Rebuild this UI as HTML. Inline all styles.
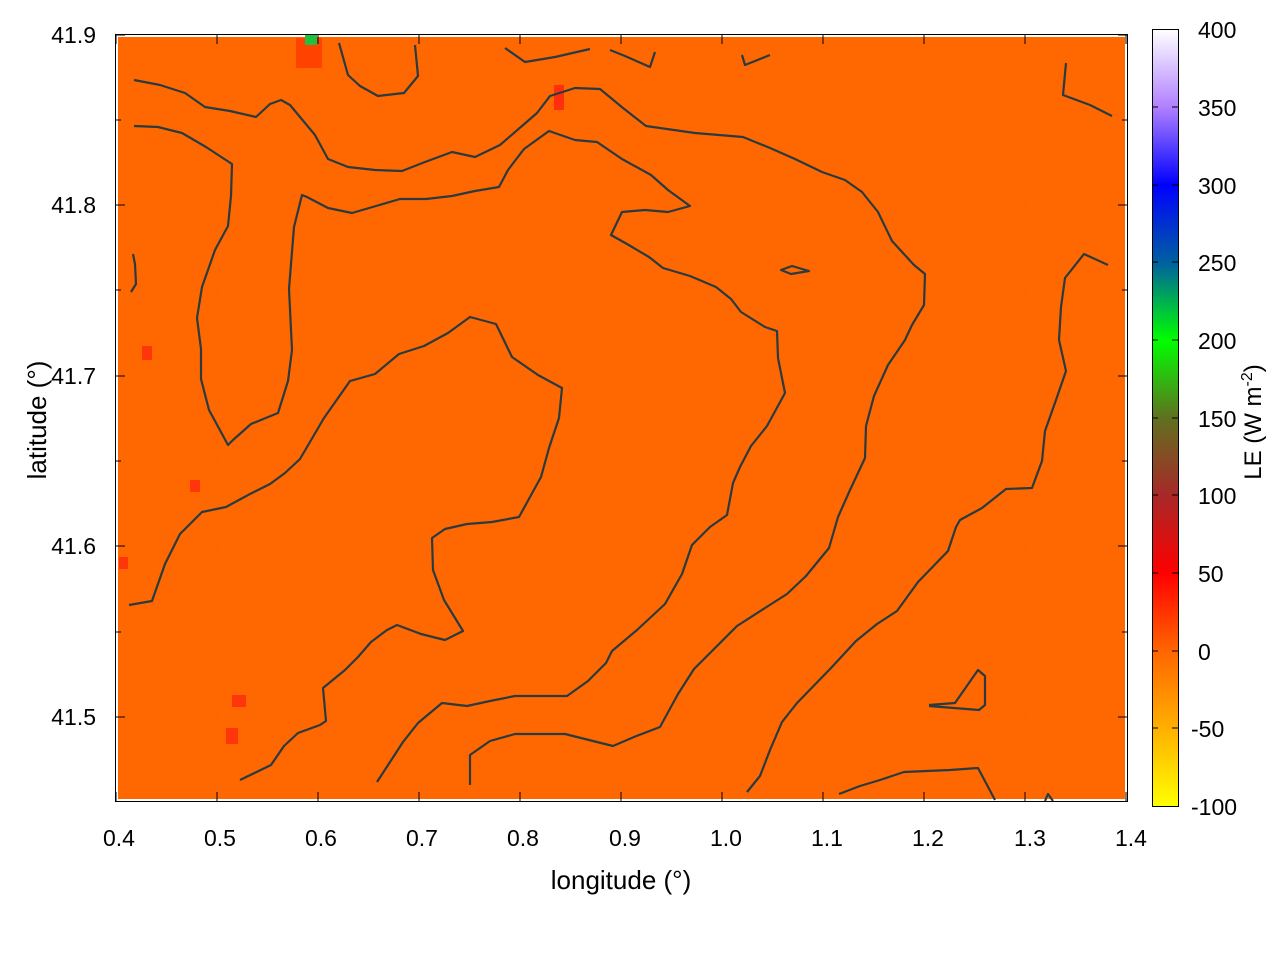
<!DOCTYPE html>
<html><head><style>body{margin:0;background:#fff}svg text{font-family:"Liberation Sans",sans-serif;font-size:23px;fill:#000}</style></head>
<body>
<svg width="1280" height="960" xmlns="http://www.w3.org/2000/svg">
<defs>
<linearGradient id="cb" x1="0" y1="1" x2="0" y2="0">
<stop offset="0" stop-color="#ffff00"/>
<stop offset="0.1" stop-color="#ffb000"/>
<stop offset="0.2" stop-color="#ff6600"/>
<stop offset="0.3" stop-color="#ff0000"/>
<stop offset="0.4" stop-color="#a82828"/>
<stop offset="0.5" stop-color="#607020"/>
<stop offset="0.6" stop-color="#00ff00"/>
<stop offset="0.7" stop-color="#0060a0"/>
<stop offset="0.8" stop-color="#0000ff"/>
<stop offset="0.9" stop-color="#b080ff"/>
<stop offset="1" stop-color="#ffffff"/>
</linearGradient>
</defs>
<rect x="118" y="37" width="1007" height="762" fill="#ff6800"/>
<rect x="296" y="38" width="26" height="30" fill="#ff3800" opacity="0.8"/>
<rect x="305" y="35" width="12" height="10" fill="#20c040"/>
<rect x="554" y="85" width="10" height="25" fill="#ff2010" opacity="0.8"/>
<rect x="142" y="346" width="10" height="14" fill="#ff2010" opacity="0.7"/>
<rect x="190" y="480" width="10" height="12" fill="#ff2010" opacity="0.7"/>
<rect x="119" y="557" width="9" height="12" fill="#ff2010" opacity="0.7"/>
<rect x="226" y="728" width="12" height="16" fill="#ff2010" opacity="0.7"/>
<rect x="232" y="695" width="14" height="12" fill="#ff2010" opacity="0.7"/>
<g stroke="#cc6a10" stroke-width="0.6" stroke-dasharray="1,3" fill="none" opacity="0.7">
<path d="M217 35V801M318 35V801M419 35V801M520 35V801M621 35V801M722 35V801M823 35V801M924 35V801M1025 35V801"/>
<path d="M116 120H1127M116 205H1127M116 290H1127M116 376H1127M116 461H1127M116 546H1127M116 632H1127M116 717H1127"/>
</g>
<g fill="none" stroke="#2a3a40" stroke-width="2.2" stroke-linejoin="round">
<path d="M134 80L160 85L185 93L205 107L230 111L256 117L270 104L281 100L290 105L315 135L328 159L348 167L375 170L402 171L425 162L452 152L475 157L500 145L522 126L537 113L550 96L575 88L600 89L623 108L646 126L695 133L743 137L770 148L795 159L822 172L845 180L862 192L878 212L892 241L914 265L925 274L924 305L912 325L905 340L888 365L874 396L866 426L865 458L850 490L838 517L829 548L806 576L787 594L765 608L737 626L712 651L694 669L678 694L660 727L634 737L613 746L565 734L515 734L490 741L470 755L470 785"/>
<path d="M134 126L158 127L182 133L206 147L232 164L231 196L228 226L215 250L202 287L197 318L201 349L201 379L209 410L228 445L233 440L251 424L278 413L288 381L292 350L289 289L294 227L302 195L307 197L328 208L352 213L376 206L400 199L426 199L452 196L475 191L499 187L508 170L524 149L549 131L575 140L597 142L622 159L651 175L668 190L690 206L668 212L645 210L622 212L611 235L627 244L649 257L663 268L690 276L716 287L731 299L741 312L765 327L777 331L778 358L785 393L767 426L751 446L740 467L733 483L727 515L710 527L692 545L682 574L665 604L637 630L612 651L606 663L588 681L567 696L515 696L490 701L467 706L442 703L418 723L403 742L390 762L377 782"/>
<path d="M129 605L152 601L165 564L180 534L202 512L226 507L250 494L270 484L285 473L300 459L324 418L350 381L375 374L399 354L424 346L448 333L470 317L496 324L512 357L538 375L562 388L559 418L549 448L541 477L519 517L492 522L467 524L445 529L432 538L433 570L444 600L463 631L445 640L421 634L397 625L387 630L371 642L358 657L345 670L323 688L326 721L320 725L298 733L284 746L271 765L240 780"/>
<path d="M339 43L348 75L360 86L378 96L404 93L418 76L415 45"/>
<path d="M505 48L525 62L555 57L590 49"/>
<path d="M610 50L625 56L650 67L655 52"/>
<path d="M742 55L745 65L770 55"/>
<path d="M781 270L792 266L809 271L791 274Z"/>
<path d="M133 254L135 264L136 284L131 292"/>
<path d="M1066 63L1063 95L1090 105L1112 116"/>
<path d="M1108 265L1084 254L1065 278L1061 307L1059 340L1066 371L1056 400L1045 431L1042 461L1032 488L1006 489L982 508L960 520L956 527L948 551L918 582L897 611L877 624L856 641L831 668L797 703L782 722L770 750L760 776L747 792"/>
<path d="M839 794L860 786L880 780L904 772L950 770L978 768L995 800"/>
<path d="M929 705L955 703L978 670L985 676L985 705L979 710L929 706"/>
<path d="M1045 801L1048 794L1053 801"/>
</g>
<rect x="115.5" y="34.5" width="1012" height="767" fill="none" stroke="#000" stroke-width="1"/>
<g stroke="#000" stroke-width="1">
<path d="M116 35V44M217 35V44M318 35V44M419 35V44M520 35V44M621 35V44M722 35V44M823 35V44M924 35V44M1025 35V44M1126 35V44"/>
<path d="M116 801V792M217 801V792M318 801V792M419 801V792M520 801V792M621 801V792M722 801V792M823 801V792M924 801V792M1025 801V792M1126 801V792"/>
<path d="M116 35H125M116 120H121M116 205H125M116 290H121M116 376H125M116 461H121M116 546H125M116 632H121M116 717H125"/>
<path d="M1127 35H1118M1127 120H1122M1127 205H1118M1127 290H1122M1127 376H1118M1127 461H1122M1127 546H1118M1127 632H1122M1127 717H1118"/>
</g>
<g text-anchor="end">
<text x="96" y="43">41.9</text><text x="96" y="213">41.8</text><text x="96" y="384">41.7</text><text x="96" y="554">41.6</text><text x="96" y="725">41.5</text>
</g>
<g text-anchor="middle">
<text x="119" y="846">0.4</text><text x="220" y="846">0.5</text><text x="321" y="846">0.6</text><text x="422" y="846">0.7</text><text x="523" y="846">0.8</text><text x="625" y="846">0.9</text><text x="726" y="846">1.0</text><text x="827" y="846">1.1</text><text x="928" y="846">1.2</text><text x="1030" y="846">1.3</text><text x="1131" y="846">1.4</text>
<text x="621" y="889" style="font-size:26px">longitude (°)</text>
<text transform="translate(46,420) rotate(-90)" style="font-size:26px">latitude (°)</text>
<text transform="translate(1261,422) rotate(-90)" style="font-size:24px">LE (W m<tspan dy="-9" style="font-size:16px">-2</tspan><tspan dy="9">)</tspan></text>
</g>
<rect x="1152.5" y="29.5" width="26" height="777" fill="url(#cb)" stroke="#000"/>
<g stroke="#000"><path d="M1152 107H1158M1152 185H1158M1152 262H1158M1152 340H1158M1152 418H1158M1152 495H1158M1152 573H1158M1152 651H1158M1152 728H1158M1178 107H1172M1178 185H1172M1178 262H1172M1178 340H1172M1178 418H1172M1178 495H1172M1178 573H1172M1178 651H1172M1178 728H1172"/></g>
<g>
<text x="1198" y="38">400</text><text x="1198" y="116">350</text><text x="1198" y="194">300</text><text x="1198" y="271">250</text><text x="1198" y="349">200</text><text x="1198" y="427">150</text><text x="1198" y="504">100</text><text x="1198" y="582">50</text><text x="1198" y="660">0</text><text x="1191" y="737">-50</text><text x="1191" y="815">-100</text>
</g>
</svg>
</body></html>
